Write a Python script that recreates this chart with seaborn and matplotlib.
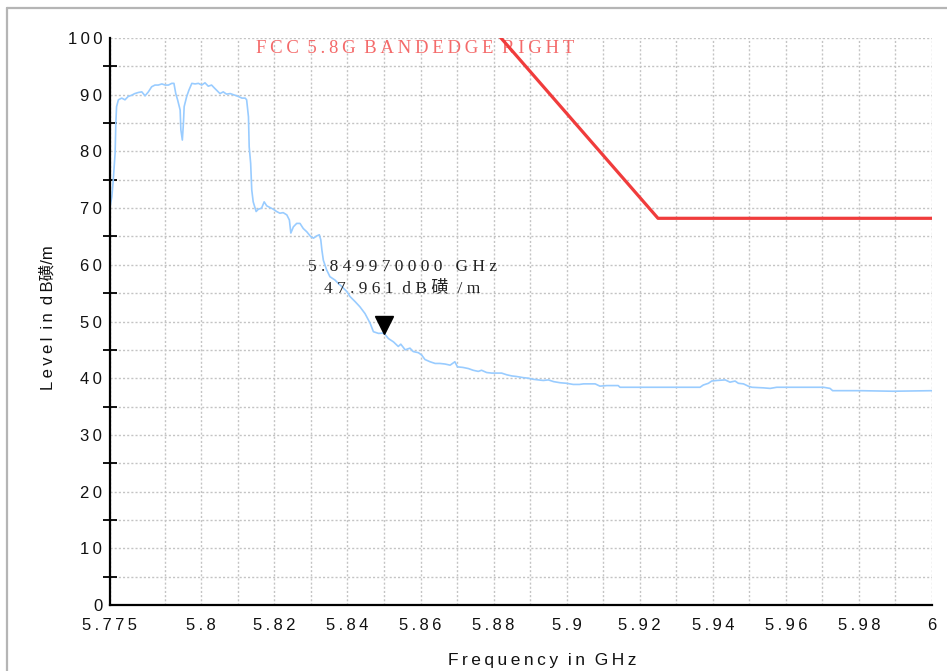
import matplotlib
matplotlib.use("Agg")
import matplotlib.pyplot as plt
import matplotlib.transforms as mtransforms
from matplotlib.lines import Line2D
import seaborn as sns
import pandas as pd

# ---- data ----
freq_ghz = [5.7750, 5.7755, 5.7759, 5.7764, 5.7766, 5.7768, 5.7773, 5.7782, 5.7791, 5.7800,
            5.7809, 5.7818, 5.7828, 5.7837, 5.7846, 5.7855, 5.7864, 5.7873, 5.7882, 5.7892,
            5.7901, 5.7910, 5.7919, 5.7925, 5.7930, 5.7935, 5.7942, 5.7944, 5.7948, 5.7951,
            5.7953, 5.7960, 5.7966, 5.7974, 5.7983, 5.7992, 5.8001, 5.8010, 5.8019, 5.8028,
            5.8037, 5.8051, 5.8060, 5.8069, 5.8079, 5.8092, 5.8101, 5.8111, 5.8120, 5.8124,
            5.8129, 5.8131, 5.8135, 5.8138, 5.8142, 5.8150, 5.8156, 5.8165, 5.8172, 5.8179,
            5.8188, 5.8197, 5.8206, 5.8215, 5.8224, 5.8234, 5.8241, 5.8245, 5.8252, 5.8261,
            5.8270, 5.8279, 5.8289, 5.8299, 5.8307, 5.8316, 5.8323, 5.8327, 5.8330, 5.8334,
            5.8343, 5.8352, 5.8366, 5.8375, 5.8384, 5.8398, 5.8407, 5.8421, 5.8434, 5.8448,
            5.8462, 5.8471, 5.8485, 5.84997, 5.8512, 5.8526, 5.8539, 5.8546, 5.8558, 5.8571,
            5.8580, 5.8594, 5.8603, 5.8612, 5.8626, 5.8640, 5.8653, 5.8667, 5.8681, 5.8694,
            5.8701, 5.8716, 5.8731, 5.8744, 5.8758, 5.8767, 5.8781, 5.8795, 5.8809, 5.8822,
            5.8836, 5.8850, 5.8863, 5.8881, 5.8895, 5.8909, 5.8922, 5.8936, 5.8950, 5.8964,
            5.8982, 5.9000, 5.9018, 5.9035, 5.9046, 5.9078, 5.9091, 5.9110, 5.9141, 5.9146,
            5.9365, 5.9374, 5.9388, 5.9397, 5.9411, 5.9434, 5.9447, 5.9461, 5.9470, 5.9484,
            5.9497, 5.9507, 5.9538, 5.9557, 5.9575, 5.9639, 5.9703, 5.9721, 5.9728, 5.9803,
            5.9893, 5.9986, 6.0000]
level_dbuv = [70.2, 72.0, 75.0, 79.7, 85.0, 87.9, 89.1, 89.4, 89.1, 89.7,
              89.9, 90.2, 90.4, 90.5, 89.8, 90.5, 91.4, 91.7, 91.7, 91.9,
              91.7, 91.7, 92.0, 92.0, 90.2, 89.1, 87.3, 83.8, 82.0, 85.0,
              87.9, 89.7, 90.8, 92.0, 91.9, 92.0, 91.7, 92.1, 91.5, 91.7,
              91.1, 90.2, 90.5, 90.1, 90.2, 89.9, 89.7, 89.4, 89.4, 89.1,
              86.1, 80.8, 77.9, 73.2, 71.1, 69.4, 69.8, 70.0, 71.1, 70.4,
              70.1, 69.8, 69.4, 69.1, 69.2, 68.8, 67.9, 65.6, 66.7, 67.3,
              67.3, 66.4, 65.8, 65.0, 64.7, 65.1, 65.3, 64.4, 62.6, 60.8,
              59.1, 57.9, 57.3, 56.7, 56.2, 55.3, 54.4, 53.5, 52.6, 51.4,
              49.7, 48.2, 47.9, 47.961, 47.0, 46.4, 45.6, 46.0, 45.0, 45.3,
              44.7, 44.5, 44.1, 43.3, 42.9, 42.6, 42.6, 42.5, 42.3, 42.9,
              42.0, 41.9, 41.7, 41.4, 41.2, 41.4, 41.0, 40.9, 40.9, 40.9,
              40.6, 40.4, 40.3, 40.1, 40.0, 39.8, 39.7, 39.6, 39.7, 39.4,
              39.2, 39.1, 38.9, 38.9, 39.0, 39.0, 38.6, 38.7, 38.7, 38.4,
              38.4, 38.8, 39.1, 39.5, 39.6, 39.7, 39.3, 39.5, 39.1, 39.0,
              38.6, 38.4, 38.3, 38.2, 38.4, 38.4, 38.4, 38.2, 37.8, 37.8,
              37.7, 37.8, 37.8]

limit_freq = [5.875, 5.925, 6.000]
limit_level = [105.2, 68.2, 68.2]

marker_freq = 5.84997
marker_level = 47.961

x_ticks = [5.775, 5.79, 5.80, 5.81, 5.82, 5.83, 5.84, 5.85, 5.86, 5.87, 5.88, 5.89,
           5.90, 5.91, 5.92, 5.93, 5.94, 5.95, 5.96, 5.97, 5.98, 5.99, 6.00]
x_labels = ["5.775", "", "5.8", "", "5.82", "", "5.84", "", "5.86", "", "5.88", "",
            "5.9", "", "5.92", "", "5.94", "", "5.96", "", "5.98", "", "6"]
y_major = [0, 10, 20, 30, 40, 50, 60, 70, 80, 90, 100]
y_minor = [5, 15, 25, 35, 45, 55, 65, 75, 85, 95]

title_text = "FCC 5.8G BANDEDGE RIGHT"
marker_line1 = "5.849970000 GHz"
marker_line2 = "47.961 dB磺/m"
x_title = "Frequency in GHz"
y_title = "Level in dB磺/m"

THIN = "\u2009"


def spaced(s, sep=THIN, word=" "):
    words = s.split(" ")
    return word.join(sep.join(list(w)) for w in words)


sns.set_theme(style="white")
plt.rcParams["font.family"] = ["Liberation Sans", "DejaVu Sans", "Noto Sans CJK SC"]

fig = plt.figure(figsize=(9.47, 6.71), dpi=100)
ax = fig.add_axes([110 / 947, 1 - 605 / 671, 822 / 947, 567 / 671])

trace = pd.DataFrame({"freq": freq_ghz, "level": level_dbuv})
limit = pd.DataFrame({"freq": limit_freq, "level": limit_level})

sns.lineplot(data=trace, x="freq", y="level", ax=ax, color="#99ccff",
             linewidth=1.2, sort=False, estimator=None, zorder=3)
sns.lineplot(data=limit, x="freq", y="level", ax=ax, color="#f03c3c",
             linewidth=2.3, sort=False, estimator=None, zorder=4)

# marker triangle (tip at the data point)
off = mtransforms.offset_copy(ax.transData, fig=fig, x=0, y=5.5, units="points")
ax.plot([marker_freq], [marker_level], marker="v", markersize=12.5,
        color="black", transform=off, zorder=5, clip_on=False)

ax.set_xlim(5.775, 6.0)
ax.set_ylim(0, 100)

ax.set_xticks(x_ticks)
ax.set_xticklabels([spaced(l) for l in x_labels])
ax.set_yticks(y_major)
ax.set_yticklabels([spaced(str(v)) for v in y_major])
ax.set_yticks(y_minor, minor=True)

ax.tick_params(axis="both", which="both", direction="inout", color="black",
               width=1.3, labelsize=12, labelcolor="#111111")
ax.tick_params(axis="x", which="major", length=11, pad=4)
ax.tick_params(axis="y", which="major", length=10, pad=0.5)
ax.tick_params(axis="y", which="minor", length=10, left=True)

ax.grid(True, which="both", color="#c4c4c4", linestyle=(0, (1.5, 1.5)), linewidth=1.0)
ax.set_axisbelow(True)

for side in ["top", "right"]:
    ax.spines[side].set_visible(False)
for side in ["left", "bottom"]:
    ax.spines[side].set_color("black")
    ax.spines[side].set_linewidth(1.6)
    ax.spines[side].set_zorder(6)

ax.set_xlabel("")
ax.set_ylabel("")

serif = ["Liberation Serif", "DejaVu Serif", "Noto Sans CJK SC"]
ax.text(5.8585, 98.2, spaced(title_text, word=" " + THIN), color="#f46a6a",
        fontsize=13.5, family=serif, ha="center", va="center", zorder=2)

ax.text(5.8552, 59.6, spaced(marker_line1, sep=" ", word="   "),
        fontsize=12.5, family=serif, ha="center", va="center", color="#222222", zorder=6)
ax.text(5.8549, 55.7, "4 7 . 9 6 1  d B 磺  / m",
        fontsize=12.5, family=serif, ha="center", va="center", color="#222222", zorder=6)

fig.text(542 / 947, 1 - 660 / 671, spaced(x_title, word="  "),
         ha="center", va="center", fontsize=12.5, color="#111111")
fig.text(48 / 947, 1 - 318 / 671, spaced("Level in dB", word=" " + THIN) + "磺/m",
         rotation=90, ha="center", va="center", fontsize=12, color="#111111")

# outer grey frame (top and left)
fig.add_artist(Line2D([7 / 947, 1.0], [1 - 8 / 671, 1 - 8 / 671], color="#b5b5b5", linewidth=1.6))
fig.add_artist(Line2D([7 / 947, 7 / 947], [0, 1 - 8 / 671], color="#b5b5b5", linewidth=1.6))

fig.savefig("out.png", dpi=100)
